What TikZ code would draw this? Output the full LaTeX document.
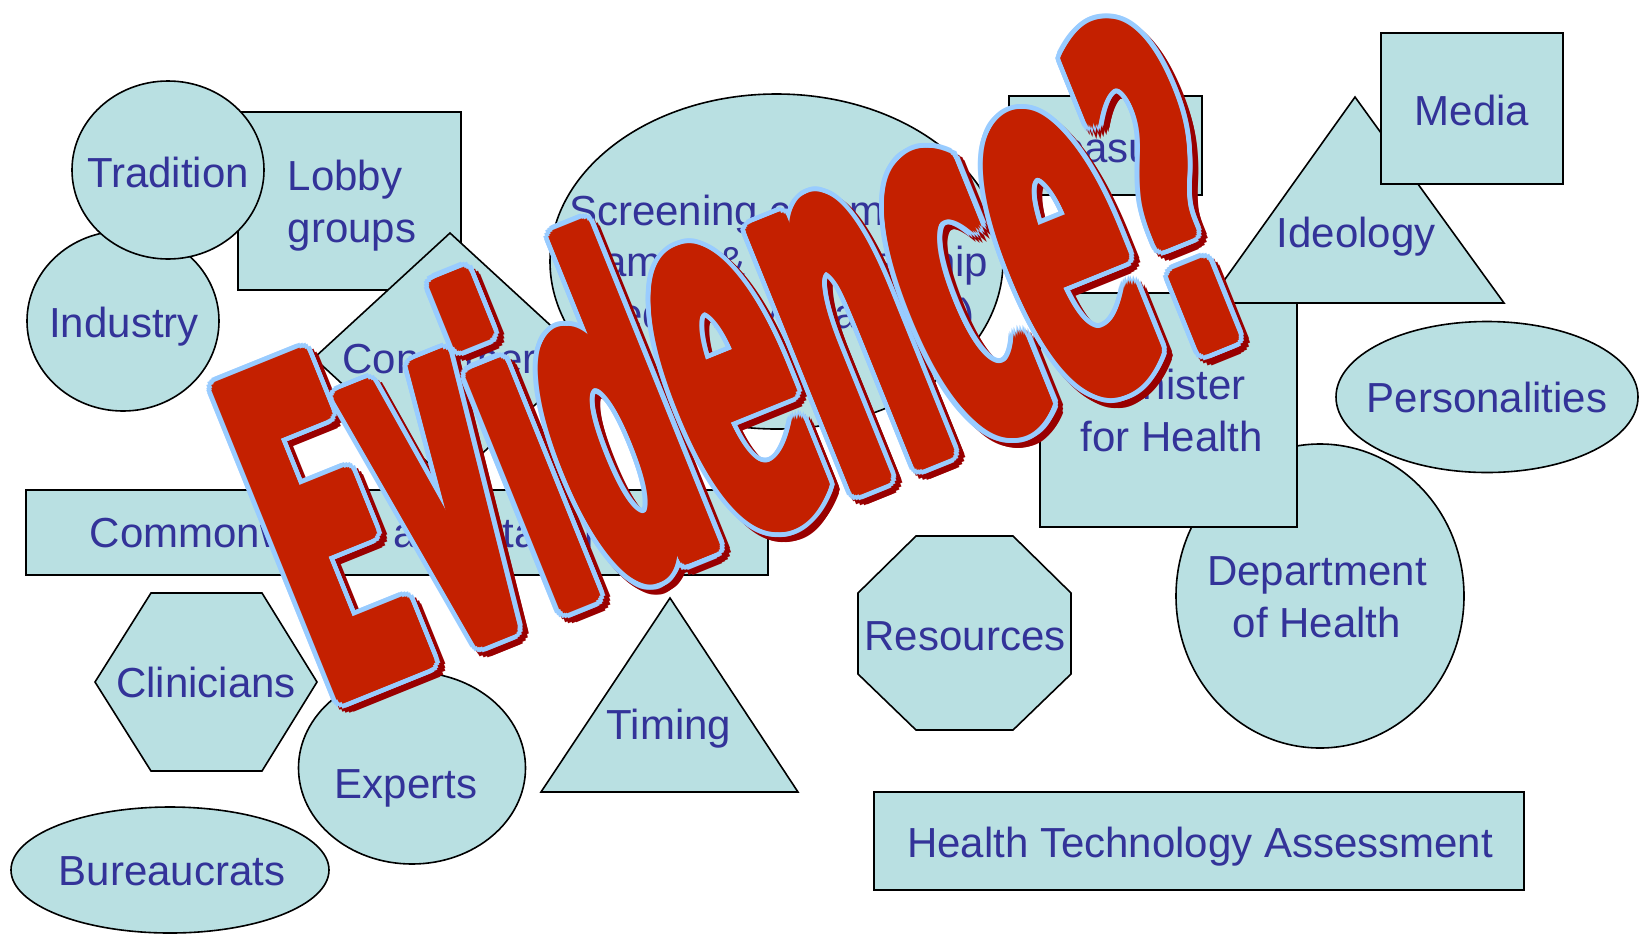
\documentclass[tikz,border=0pt]{standalone}
\usepackage{fontspec}
\setmainfont{Liberation Sans}
\newfontfamily\evfont{DejaVu Sans Condensed Bold}
\usepackage{graphicx}
\usetikzlibrary{positioning}

\definecolor{shapefill}{RGB}{185,224,226}
\definecolor{labelblue}{RGB}{51,51,153}
\definecolor{evred}{RGB}{196,32,0}
\definecolor{evshadow}{RGB}{153,0,0}
\definecolor{evedge}{RGB}{153,204,255}

% letras minusculas algo mas altas, como en el rotulo original
\newcommand{\evlow}[1]{\scalebox{1}[1.12]{#1}}
\newcommand{\evtext}{\resizebox{102mm}{34.8mm}{\evfont E\evlow{v}id\evlow{ence}?}}

\begin{document}
\begin{tikzpicture}[x=0.1mm, y=-0.1mm,
		blob/.style={
			fill=shapefill,
			draw=black,
			line width=0.16mm
		},
		lbl/.style={
			font=\fontsize{11.95}{14.6}\selectfont,
			text=labelblue,
			inner sep=0pt,
			anchor=base
		},
		evword/.style={
			inner sep=0pt,
			anchor=base west,
			rotate=22
		}
		]
		\useasboundingbox[fill=white] (0,0) rectangle (1641,937);
		
		% Formas de la izquierda
		\filldraw[blob] (238,112) rectangle (461,290);
		\filldraw[blob] (123,321) ellipse [x radius=96, y radius=90];
		\filldraw[blob] (168,170) ellipse [x radius=96, y radius=89];
		\node[lbl, anchor=base west, align=left] (lobby) at (287,242) {Lobby\\groups};
		\node[lbl] (industry) at (124,337) {Industry};
		\node[lbl] (tradition) at (168,187) {Tradition};
		
		% Elipse central y rombo
		\filldraw[blob] (776.5,261.5) ellipse [x radius=226.5, y radius=167.5];
		\node[lbl, align=center] (screening) at (777,328) {Screening committees\\(names \& membership\\(frequently changing)};
		\filldraw[blob] (450,233) -- (586,358) -- (450,483) -- (314,358) -- cycle;
		\node[lbl] (consumers) at (450,373) {Consumers};
		
		\filldraw[blob] (1009,96) rectangle (1202,195);
		\node[lbl] (treasury) at (1105,162) {Treasury};
		
		% Banda y formas de abajo
		\filldraw[blob] (26,490) rectangle (768,575);
		\node[lbl, anchor=base west] (commonwealth) at (89,547) {Commonwealth and State issues};
		\filldraw[blob] (151,593) -- (262,593) -- (317,682) -- (262,771) -- (151,771) -- (95,682) -- cycle;
		\node[lbl] (clinicians) at (206,697) {Clinicians};
		\filldraw[blob] (412,768) ellipse [x radius=113.5, y radius=96];
		\node[lbl] (experts) at (406,798) {Experts};
		\filldraw[blob] (170,870) ellipse [x radius=159, y radius=63];
		\node[lbl] (bureaucrats) at (172,885) {Bureaucrats};
		\filldraw[blob] (670,598) -- (798,792) -- (541,792) -- cycle;
		\node[lbl] (timing) at (669,739) {Timing};
		\filldraw[blob] (916,536) -- (1013,536) -- (1071,593) -- (1071,674) -- (1013,730) -- (916,730) -- (858,674) -- (858,593) -- cycle;
		\node[lbl] (resources) at (965,650) {Resources};
		
		% Formas de la derecha
		\filldraw[blob] (1320,596) ellipse [x radius=144, y radius=152];
		\node[lbl, align=center] (department) at (1317,637) {Department\\of Health};
		\filldraw[blob] (1040,293) rectangle (1297,527);
		\node[lbl, align=center] (minister) at (1172,451) {Minister\\for Health};
		\filldraw[blob] (1355,97) -- (1504,303) -- (1208,303) -- cycle;
		\node[lbl] (ideology) at (1356,247) {Ideology};
		\filldraw[blob] (1381,33) rectangle (1563,184);
		\node[lbl] (media) at (1472,125) {Media};
		\filldraw[blob] (1487,397) ellipse [x radius=151, y radius=75.5];
		\node[lbl] (personalities) at (1487,412) {Personalities};
		\filldraw[blob] (874,792) rectangle (1524,890);
		\node[lbl] (hta) at (1200,857) {Health Technology Assessment};
		
		% Letrero Evidence? por encima de todo
		\coordinate (evbase) at (326.6,704.4);
		\coordinate (evshade) at (332.1,709.4);
		\foreach \a in {0,20,...,340}
			\node[evword, text=evshadow] (evs\a) at ([shift={(\a:11)}]evshade) {\evtext};
		\foreach \a in {0,15,...,345}
			\node[evword, text=evedge] (eve\a) at ([shift={(\a:11)}]evbase) {\evtext};
		\foreach \a in {0,22.5,...,337.5}
			\node[evword, text=evred] (evr\a) at ([shift={(\a:6)}]evbase) {\evtext};
		\node[evword, text=evred] (evidence) at (evbase) {\evtext};
		
	\end{tikzpicture}
\end{document}
